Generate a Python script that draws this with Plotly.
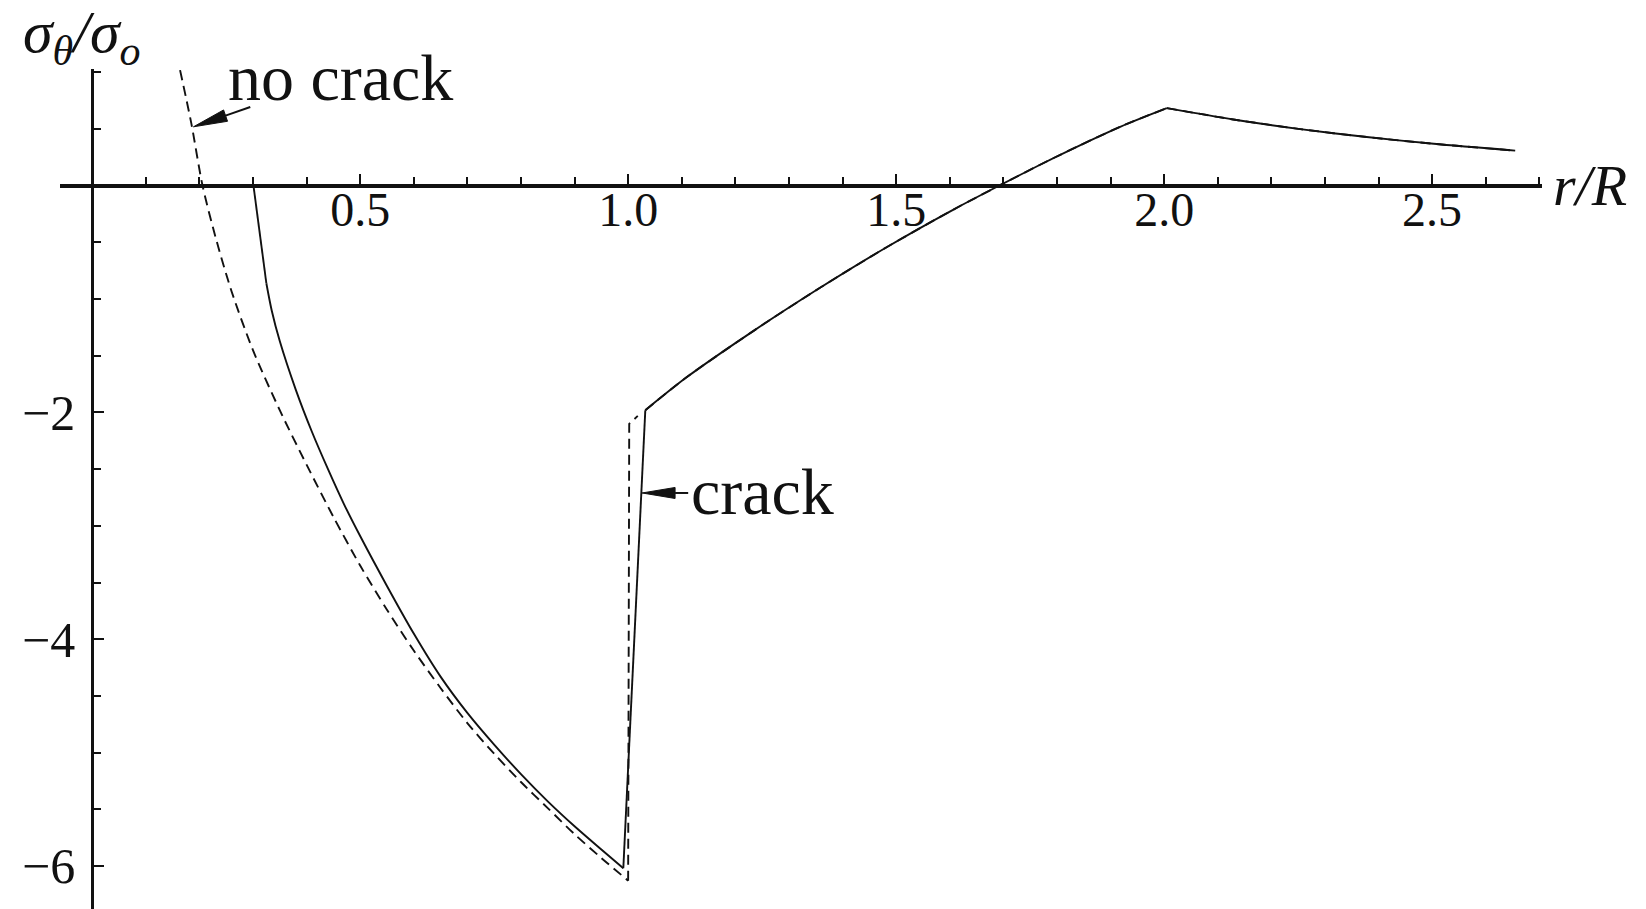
import math
import plotly.graph_objects as go

# Hoop stress sigma_theta/sigma_o against radius r/R, with and without a crack.

# --- no crack (dashed), inner branch r < R ---
nocrack_r = [0.164, 0.185, 0.206, 0.230, 0.260, 0.300, 0.350, 0.400, 0.450, 0.500,
             0.550, 0.600, 0.650, 0.700, 0.750, 0.800, 0.850, 0.900, 0.950, 1.000]
nocrack_s = [1.02, 0.55, 0.00, -0.45, -0.93, -1.45, -1.98, -2.46, -2.92, -3.35,
             -3.74, -4.10, -4.43, -4.74, -5.01, -5.26, -5.49, -5.72, -5.93, -6.13]

# jump of the no-crack curve at r = R
nocrack_jump_r = [1.000, 1.002, 1.018]
nocrack_jump_s = [-6.13, -2.10, -2.03]

# --- crack (solid), inner branch: steep start, then the curved part ---
crack_top_r = [0.301, 0.325]
crack_top_s = [0.00, -0.86]

crack_r = [0.325, 0.335, 0.350, 0.380, 0.410, 0.440, 0.470, 0.500, 0.550, 0.600,
           0.650, 0.700, 0.750, 0.800, 0.850, 0.900, 0.950, 0.991]
crack_s = [-0.86, -1.10, -1.37, -1.80, -2.17, -2.50, -2.81, -3.09, -3.53, -3.95,
           -4.33, -4.65, -4.93, -5.19, -5.43, -5.65, -5.855, -6.02]

# jump of the crack curve near r = R
crack_jump_r = [0.991, 1.032]
crack_jump_s = [-6.02, -1.98]

# --- common outer branch (both curves coincide) ---
outer_r = [1.032, 1.109, 1.234, 1.358, 1.483, 1.607, 1.694, 1.794, 1.918, 2.005]
outer_s = [-1.98, -1.69, -1.28, -0.90, -0.54, -0.21, 0.005, 0.245, 0.52, 0.685]

far_r = [2.005, 2.129, 2.254, 2.378, 2.503, 2.655]
far_s = [0.685, 0.585, 0.50, 0.43, 0.37, 0.31]

# axis ticks
x_major = [0.5, 1.0, 1.5, 2.0, 2.5]
x_labels = ["0.5", "1.0", "1.5", "2.0", "2.5"]
y_major = [-6, -4, -2]
y_labels = ["\u22126", "\u22124", "\u22122"]

X_RANGE = [-0.06, 2.705]
Y_RANGE = [-6.38, 1.03]
W, H = 1646, 909
M = dict(l=60, r=104, t=69, b=0)
PLOT_W = W - M["l"] - M["r"]
PLOT_H = H - M["t"] - M["b"]
PX_X = PLOT_W / (X_RANGE[1] - X_RANGE[0])
PX_Y = PLOT_H / (Y_RANGE[1] - Y_RANGE[0])

FONT = "Liberation Serif, Times New Roman, serif"
BLACK = "#111111"

fig = go.Figure()

solid = dict(color=BLACK, width=1.9)
dashed = dict(color=BLACK, width=1.9, dash="10px,6px")


def add_line(xs, ys, style, shape="spline"):
    line = dict(style, shape=shape)
    if shape == "spline":
        line["smoothing"] = 0.8
    fig.add_trace(go.Scatter(x=xs, y=ys, mode="lines", line=line,
                             hoverinfo="skip", showlegend=False))


add_line(nocrack_r, nocrack_s, dashed)
add_line(nocrack_jump_r, nocrack_jump_s, dashed, "linear")
add_line(outer_r, outer_s, dashed)
add_line(far_r, far_s, dashed)

add_line(crack_top_r, crack_top_s, solid, "linear")
add_line(crack_r, crack_s, solid)
add_line(crack_jump_r, crack_jump_s, solid, "linear")
add_line(outer_r, outer_s, solid)
add_line(far_r, far_s, solid)


def to_paper(x, y):
    return ((x - X_RANGE[0]) / (X_RANGE[1] - X_RANGE[0]),
            (y - Y_RANGE[0]) / (Y_RANGE[1] - Y_RANGE[0]))


def arrow(tail, tip, head_len=34, head_half=5.5, width=2):
    """Shaft plus filled narrow arrowhead, built in pixel space."""
    tx, ty = tail[0] * PX_X, tail[1] * PX_Y
    hx, hy = tip[0] * PX_X, tip[1] * PX_Y
    d = math.hypot(hx - tx, hy - ty)
    ux, uy = (hx - tx) / d, (hy - ty) / d
    bx, by = hx - ux * head_len, hy - uy * head_len
    nx, ny = -uy, ux
    p1 = ((bx + nx * head_half) / PX_X, (by + ny * head_half) / PX_Y)
    p2 = ((bx - nx * head_half) / PX_X, (by - ny * head_half) / PX_Y)
    fig.add_shape(type="line", xref="x", yref="y", x0=tail[0], y0=tail[1],
                  x1=bx / PX_X, y1=by / PX_Y, line=dict(color=BLACK, width=width))
    fig.add_shape(type="path", xref="x", yref="y",
                  path=f"M{tip[0]},{tip[1]} L{p1[0]},{p1[1]} L{p2[0]},{p2[1]} Z",
                  fillcolor=BLACK, line=dict(color=BLACK, width=1))


arrow((0.295, 0.695), (0.189, 0.52), head_len=34, head_half=6)
arrow((1.112, -2.71), (1.026, -2.71), head_len=33, head_half=5.5)


def label(x, y, text, size, yanchor="middle"):
    px, py = to_paper(x, y)
    fig.add_annotation(x=px, y=py, xref="paper", yref="paper", text=text,
                       showarrow=False, xanchor="left", yanchor=yanchor,
                       font=dict(family=FONT, size=size, color=BLACK))


label(0.250, 0.955, "no crack", 66)
label(1.114, -2.70, "crack", 66)
# top edge of the canvas in data units, so the axis name box starts there
top_y = Y_RANGE[1] + M["t"] / PX_Y + 3 / PX_Y
label(-0.1325, top_y, "<i>σ</i><sub><i>θ</i></sub><i>/σ</i><sub><i>o</i></sub>", 60, "top")
label(2.722, 0.0, "<i>r/R</i>", 58)

x_pos = to_paper(0, 0)[1]
y_pos = to_paper(0, 0)[0]

fig.update_layout(
    width=W, height=H, margin=M,
    paper_bgcolor="white", plot_bgcolor="white",
    font=dict(family=FONT, color=BLACK),
    xaxis=dict(range=X_RANGE, anchor="free", position=x_pos,
               showline=True, linewidth=3.5, linecolor=BLACK,
               showgrid=False, zeroline=False,
               tickmode="array", tickvals=x_major, ticktext=x_labels,
               ticks="inside", ticklen=10, tickwidth=2, tickcolor=BLACK,
               ticklabelstandoff=-19,
               tickfont=dict(family=FONT, size=48, color=BLACK),
               minor=dict(tickmode="linear", tick0=0, dtick=0.1, ticks="inside",
                          ticklen=7, tickwidth=2, tickcolor=BLACK, showgrid=False)),
    yaxis=dict(range=Y_RANGE, anchor="free", position=y_pos,
               showline=True, linewidth=3, linecolor=BLACK,
               showgrid=False, zeroline=False,
               tickmode="array", tickvals=y_major, ticktext=y_labels,
               ticks="inside", ticklen=10, tickwidth=2, tickcolor=BLACK,
               ticklabelstandoff=6,
               tickfont=dict(family=FONT, size=50, color=BLACK),
               minor=dict(tickmode="linear", tick0=0, dtick=0.5, ticks="inside",
                          ticklen=7, tickwidth=2, tickcolor=BLACK, showgrid=False)),
)

fig.write_html("out.html")
